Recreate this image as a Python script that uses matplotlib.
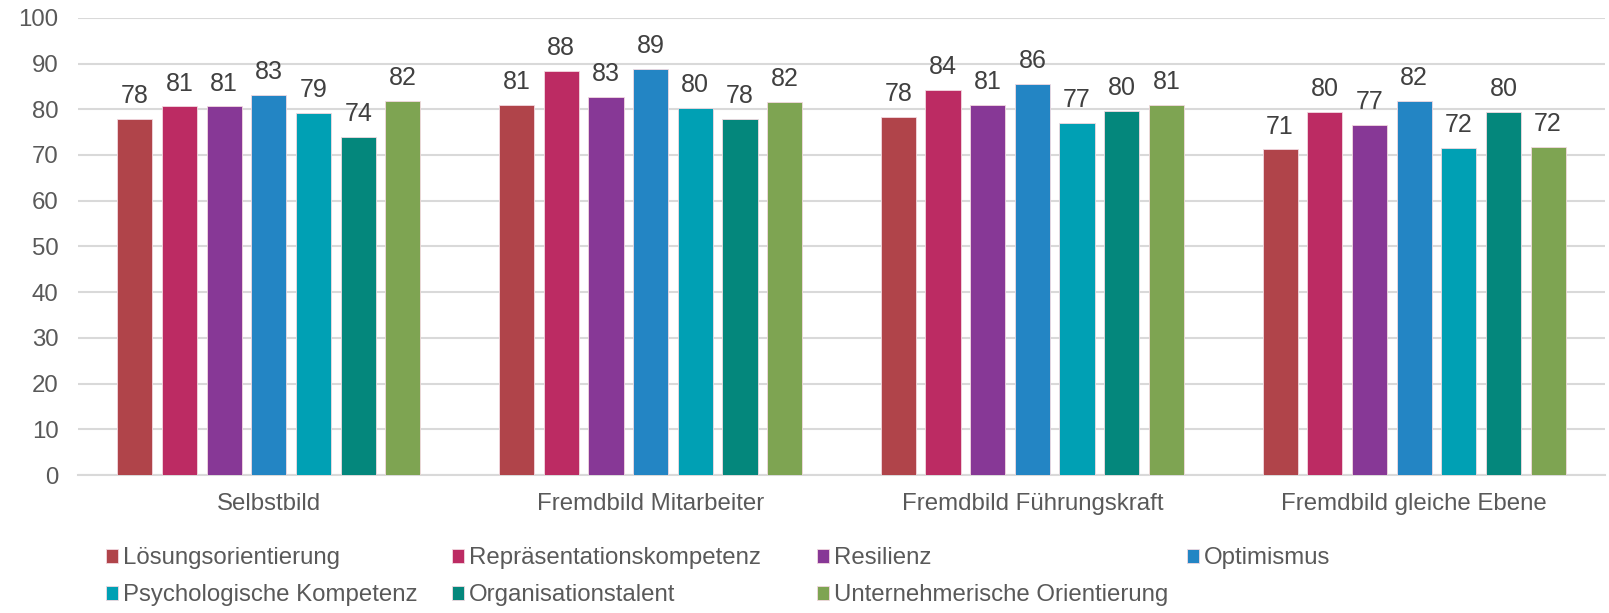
import matplotlib.pyplot as plt
import numpy as np

plt.rcParams['font.family'] = ['Liberation Sans', 'DejaVu Sans']

groups = ['Selbstbild', 'Fremdbild Mitarbeiter', 'Fremdbild Führungskraft', 'Fremdbild gleiche Ebene']
series = ['Lösungsorientierung', 'Repräsentationskompetenz', 'Resilienz', 'Optimismus',
          'Psychologische Kompetenz', 'Organisationstalent', 'Unternehmerische Orientierung']
colors = ['#B0444A', '#BC2B63', '#873896', '#2385C4', '#00A0B4', '#04877C', '#7EA452']

loesung = [77.9, 81.0, 78.3, 71.2]
repraes = [80.6, 88.3, 84.2, 79.5]
resilienz = [80.6, 82.6, 80.9, 76.6]
optimismus = [83.2, 88.8, 85.6, 81.8]
psych = [79.2, 80.2, 76.9, 71.6]
orga = [73.9, 77.8, 79.6, 79.5]
unternehmer = [81.9, 81.6, 80.9, 71.7]
values = [loesung, repraes, resilienz, optimismus, psych, orga, unternehmer]

fig = plt.figure(figsize=(16.09, 6.13), dpi=100)
ax = fig.add_axes([0.0485, 0.225, 0.949, 0.746])

x = np.arange(len(groups))
step = 0.117
width = 0.092
bars = []
for i, (name, vals, c) in enumerate(zip(series, values, colors)):
    pos = x + (i - 3) * step
    b = ax.bar(pos, vals, width, color=c, edgecolor='#F2D9E0', linewidth=0.6, label=name, zorder=3)
    bars.append(b)
    for px, v in zip(pos, vals):
        ax.annotate(f'{v:.0f}', (px, v), xytext=(0, 11.5), textcoords='offset points',
                    ha='center', va='baseline', fontsize=18, color='#404040')

ax.set_xlim(-0.5, 3.5)
ax.set_ylim(0, 100)
ax.set_yticks(range(0, 101, 10))
ax.set_xticks(x)
ax.set_xticklabels(groups)
ax.yaxis.grid(True, color='#D9D9D9', linewidth=1.5, zorder=0)
ax.set_axisbelow(True)
for s in ['top', 'right', 'left']:
    ax.spines[s].set_visible(False)
ax.spines['bottom'].set_color('#D9D9D9')
ax.spines['bottom'].set_linewidth(1.5)
ax.tick_params(axis='y', length=0, pad=14, labelsize=17.3, labelcolor='#595959')
ax.tick_params(axis='x', length=0, pad=13, labelsize=17.3, labelcolor='#595959')

# legend: four columns with fixed x positions, filled row by row
col_x = [0.066, 0.281, 0.508, 0.738]
cols = [[0, 4], [1, 5], [2, 6], [3]]
for cx, idx in zip(col_x, cols):
    fig.legend([bars[k] for k in idx], [series[k] for k in idx],
               loc='upper left', bbox_to_anchor=(cx, 0.107), frameon=False,
               fontsize=17.3, labelcolor='#595959', handlelength=0.5, handleheight=0.5,
               handletextpad=0.2, labelspacing=0.62, borderaxespad=0, borderpad=0)

fig.savefig('out.png', dpi=100)
